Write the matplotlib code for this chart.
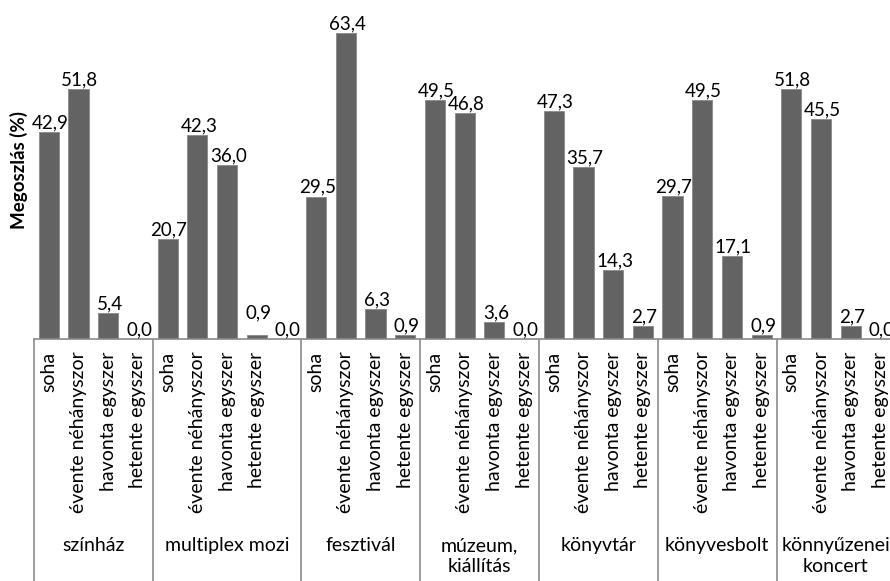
import matplotlib
matplotlib.use("Agg")
import matplotlib.pyplot as plt
import matplotlib.transforms as mtransforms

plt.rcParams['font.family'] = ['Lato', 'DejaVu Sans']

# groups (venue types) and answer categories
groups = ['színház', 'multiplex mozi', 'fesztivál', 'múzeum,\nkiállítás',
          'könyvtár', 'könyvesbolt', 'könnyűzenei\nkoncert']
freq = ['soha', 'évente néhányszor', 'havonta egyszer', 'hetente egyszer']

szinhaz = [42.9, 51.8, 5.4, 0.0]
multiplex = [20.7, 42.3, 36.0, 0.9, 0.0]   # extra unlabeled slot in the source
fesztival = [29.5, 63.4, 6.3, 0.9]
muzeum = [49.5, 46.8, 3.6, 0.0]
konyvtar = [47.3, 35.7, 14.3, 2.7]
konyvesbolt = [29.7, 49.5, 17.1, 0.9]
koncert = [51.8, 45.5, 2.7, 0.0]

series = [szinhaz, multiplex, fesztival, muzeum, konyvtar, konyvesbolt, koncert]

# flatten into slots
values, labels, bounds = [], [], [-0.5]
for vals in series:
    for j, v in enumerate(vals):
        values.append(v)
        labels.append(freq[j] if j < len(freq) else '')
    bounds.append(len(values) - 0.5)
xs = list(range(len(values)))

fig = plt.figure(figsize=(8.9, 5.81), dpi=100)
ax = fig.add_axes([34 / 890, 242 / 581, 861.3 / 890, 338 / 581])

ax.bar(xs, values, width=0.68, color='#636363', edgecolor='#8e8e8e', linewidth=0.7)
ax.set_xlim(-0.5, len(values) - 0.5)
ax.set_ylim(0, 70)

# value labels
raise_pt = {7: 9}  # multiplex 0,9 label lifted in the original
for x, v in zip(xs, values):
    ax.annotate(f"{v:.1f}".replace('.', ','), (x, v), xytext=(1, 0.5 + raise_pt.get(x, 0)),
                textcoords='offset points', ha='center', va='bottom', fontsize=13.5,
                annotation_clip=False)

for s in ['top', 'right', 'left']:
    ax.spines[s].set_visible(False)
ax.spines['bottom'].set_color('#8a8a8a')
ax.spines['bottom'].set_linewidth(1.2)
ax.set_yticks([])
ax.set_xticks(xs, labels, rotation=90, fontsize=14, va='top')
ax.tick_params(axis='x', length=0, pad=9)
ax.set_ylabel('Megoszlás (%)', fontsize=13.5, fontweight='bold', labelpad=4)

# group separators and group names below the axis
trans = mtransforms.blended_transform_factory(ax.transData, fig.transFigure)
for b in bounds:
    ax.plot([b, b], [0, 242 / 581], transform=trans, color='#8a8a8a', lw=1.2,
            clip_on=False, solid_capstyle='butt')
for i, g in enumerate(groups):
    cx = (bounds[i] + bounds[i + 1]) / 2
    ax.text(cx, (581 - 537) / 581, g, transform=trans, ha='center', va='top',
            fontsize=14, linespacing=1.25)

fig.savefig('out.png', dpi=100)
